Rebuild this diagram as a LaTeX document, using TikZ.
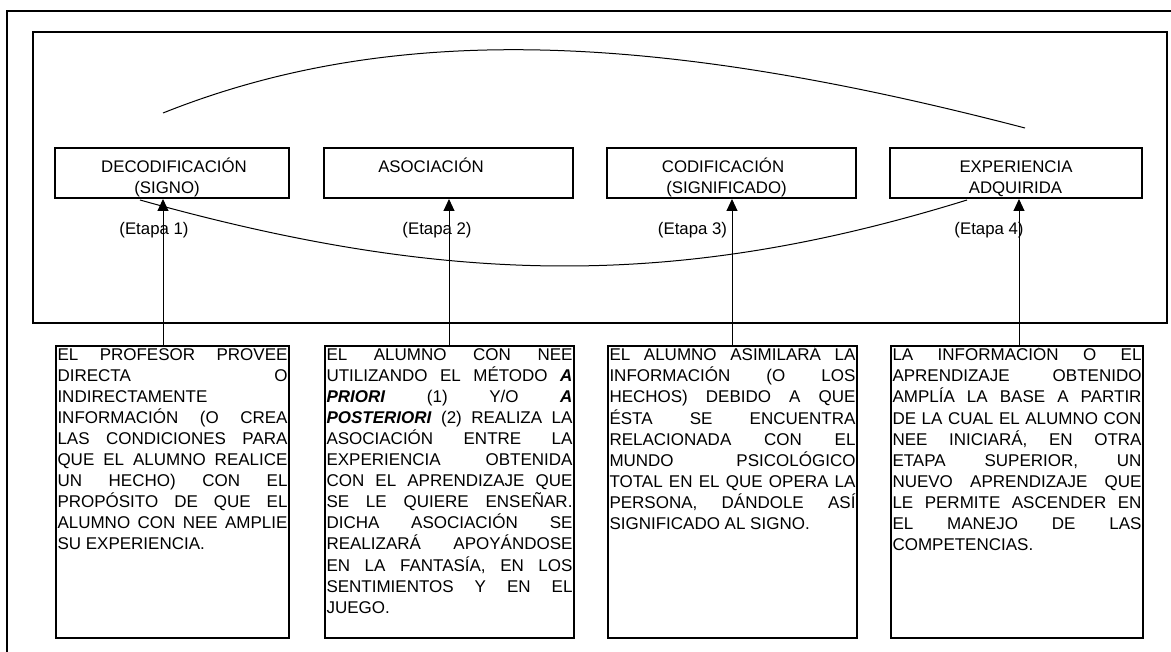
\documentclass[tikz,border=0pt]{standalone}
\usepackage{fontspec}
\setmainfont{Liberation Sans}
\usetikzlibrary{arrows.meta}
\tikzset{
  frame/.style={line width=2pt},
  ubox/.style={draw, line width=2pt, minimum height=50pt, inner sep=0pt},
  lbox/.style={draw, line width=2pt, inner xsep=1.5pt, inner ysep=0pt, anchor=north west},
  lab/.style={inner sep=0pt, anchor=base, font=\fontsize{16.8}{21}\selectfont},
  arc/.style={line width=1pt},
  arr/.style={line width=1pt, -{Triangle[length=12pt,width=11pt]}},
}
\newcommand{\bodytext}[2]{\parbox[b][292pt][t]{#1}{\fontsize{17}{21.1}\selectfont
  \tolerance=10000 \hbadness=10000 \hyphenpenalty=10000 \exhyphenpenalty=10000
  \rule{0pt}{14pt}#2}}
\begin{document}
\begin{tikzpicture}[x=1pt, y=-1pt]
\useasboundingbox (0,0) rectangle (1171,652);
\clip (0,0) rectangle (1171,652);
% frames
\draw[frame] (7,11) rectangle (1190,680);
\draw[frame] (33,32) rectangle (1167,323);
% upper boxes
\node[ubox, minimum width=234pt] (u1) at (172,173) {};
\node[ubox, minimum width=249pt] (u2) at (448.5,173) {};
\node[ubox, minimum width=249pt] (u3) at (731.5,173) {};
\node[ubox, minimum width=252pt] (u4) at (1016,173) {};
\node[lab] (u1a) at (174,173) {DECODIFICACIÓN};
\node[lab] (u1b) at (167,194) {(SIGNO)};
\node[lab] (u2a) at (431,173) {ASOCIACIÓN};
\node[lab] (u3a) at (723,173) {CODIFICACIÓN};
\node[lab] (u3b) at (726.5,194) {(SIGNIFICADO)};
\node[lab] (u4a) at (1016,173) {EXPERIENCIA};
\node[lab] (u4b) at (1015.5,194) {ADQUIRIDA};
% stage labels
\node[lab] (e1) at (154,235) {(Etapa 1)};
\node[lab] (e2) at (437,235) {(Etapa 2)};
\node[lab] (e3) at (692.5,235) {(Etapa 3)};
\node[lab] (e4) at (989,235) {(Etapa 4)};
% arcs
\coordinate (a1s) at (163,113);
\coordinate (a1e) at (1025,128);
\coordinate (a2s) at (140,200);
\coordinate (a2e) at (967,200);
\draw[arc] (a1s) .. controls (391,22) and (653,31) .. (a1e);
\draw[arc] (a2s) .. controls (454,288) and (683,288) .. (a2e);
% lower boxes
\node[lbox] (l1) at (55,345) {\bodytext{230pt}{EL PROFESOR PROVEE\linebreak
DIRECTA O\linebreak
INDIRECTAMENTE\linebreak
INFORMACIÓN (O CREA\linebreak
LAS CONDICIONES PARA\linebreak
QUE EL ALUMNO REALICE\linebreak
UN HECHO) CON EL\linebreak
PROPÓSITO DE QUE EL\linebreak
ALUMNO CON NEE AMPLIE\linebreak
SU EXPERIENCIA.}};
\node[lbox] (l2) at (324,345) {\bodytext{246pt}{EL ALUMNO CON NEE\linebreak
UTILIZANDO EL MÉTODO \textbf{\textit{A}}\linebreak
\textbf{\textit{PRIORI}} (1) Y/O \textbf{\textit{A}}\linebreak
\textbf{\textit{POSTERIORI}} (2) REALIZA LA\linebreak
ASOCIACIÓN ENTRE LA\linebreak
EXPERIENCIA OBTENIDA\linebreak
CON EL APRENDIZAJE QUE\linebreak
SE LE QUIERE ENSEÑAR.\linebreak
DICHA ASOCIACIÓN SE\linebreak
REALIZARÁ APOYÁNDOSE\linebreak
EN LA FANTASÍA, EN LOS\linebreak
SENTIMIENTOS Y EN EL\linebreak
JUEGO.}};
\node[lbox] (l3) at (607,345) {\bodytext{246pt}{EL ALUMNO ASIMILARÁ LA\linebreak
INFORMACIÓN (O LOS\linebreak
HECHOS) DEBIDO A QUE\linebreak
ÉSTA SE ENCUENTRA\linebreak
RELACIONADA CON EL\linebreak
MUNDO PSICOLÓGICO\linebreak
TOTAL EN EL QUE OPERA LA\linebreak
PERSONA, DÁNDOLE ASÍ\linebreak
SIGNIFICADO AL SIGNO.}};
\node[lbox] (l4) at (890,345) {\bodytext{249pt}{LA INFORMACIÓN O EL\linebreak
APRENDIZAJE OBTENIDO\linebreak
AMPLÍA LA BASE A PARTIR\linebreak
DE LA CUAL EL ALUMNO CON\linebreak
NEE INICIARÁ, EN OTRA\linebreak
ETAPA SUPERIOR, UN\linebreak
NUEVO APRENDIZAJE QUE\linebreak
LE PERMITE ASCENDER EN\linebreak
EL MANEJO DE LAS\linebreak
COMPETENCIAS.}};
% arrows
\draw[arr] ([xshift=-9.5pt]l1.north) -- ([xshift=-9.5pt]l1.north |- u1.south);
\draw[arr] ([xshift=-0.5pt]l2.north) -- ([xshift=-0.5pt]l2.north |- u2.south);
\draw[arr] ([xshift=-0.5pt]l3.north) -- ([xshift=-0.5pt]l3.north |- u3.south);
\draw[arr] ([xshift=2pt]l4.north) -- ([xshift=2pt]l4.north |- u4.south);
\end{tikzpicture}
\end{document}
